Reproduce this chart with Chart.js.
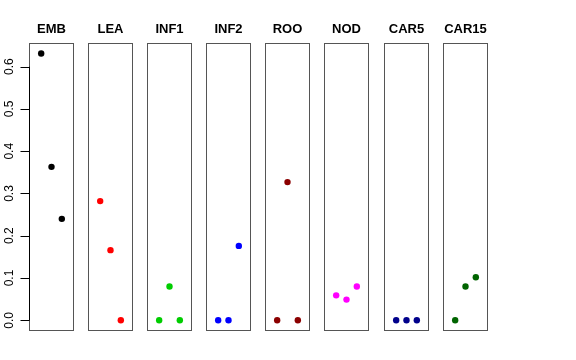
<!DOCTYPE html>
<html>
<head>
<meta charset="utf-8">
<script src="https://cdn.jsdelivr.net/npm/chart.js@4.4.1/dist/chart.umd.min.js"></script>
<style>
  html, body { margin: 0; padding: 0; background: #fff; }
  #wrap { position: relative; width: 576px; height: 360px; overflow: hidden; }
  #wrap canvas { position: absolute; top: 0; }
</style>
</head>
<body>
<div id="wrap"></div>
<script>
// tissue panels and their colours
const panels = ['EMB', 'LEA', 'INF1', 'INF2', 'ROO', 'NOD', 'CAR5', 'CAR15'];
const colors = ['#000000', '#FF0000', '#00CD00', '#0000FF', '#8B0000', '#FF00FF', '#00008B', '#006400'];

// three samples per panel
const xIdx = [1, 2, 3];
const embVals = [0.631, 0.363, 0.240];
const leaVals = [0.282, 0.166, 0.000];
const inf1Vals = [0.000, 0.080, 0.000];
const inf2Vals = [0.000, 0.000, 0.176];
const rooVals = [0.000, 0.327, 0.000];
const nodVals = [0.059, 0.049, 0.080];
const car5Vals = [0.000, 0.000, 0.000];
const car15Vals = [0.000, 0.080, 0.102];
const allVals = [embVals, leaVals, inf1Vals, inf2Vals, rooVals, nodVals, car5Vals, car15Vals];

const yTicks = [0, 0.1, 0.2, 0.3, 0.4, 0.5, 0.6];

// panel geometry (px)
const panelLeft = [29, 88, 147, 206, 265, 324, 384, 443];
const panelW = 45;
const margin = 7;
const canvasH = 345;
const panelBottom = 331;

const boxPlugin = {
  id: 'box',
  afterDraw(chart) {
    const a = chart.chartArea;
    const ctx = chart.ctx;
    ctx.save();
    ctx.strokeStyle = '#555';
    ctx.lineWidth = 1;
    ctx.strokeRect(Math.round(a.left) + 0.5, Math.round(a.top) + 0.5,
      Math.round(a.right - a.left) - 1, Math.round(a.bottom - a.top) - 1);
    ctx.restore();
  }
};

// R-style left axis: black line between first and last tick, ticks, rotated labels
const axisPlugin = {
  id: 'raxis',
  afterDraw(chart) {
    const y = chart.scales.y;
    if (!y.options.display) return;
    const ctx = chart.ctx;
    const x0 = Math.round(chart.chartArea.left) + 0.5;
    ctx.save();
    ctx.strokeStyle = '#000';
    ctx.lineWidth = 1;
    ctx.beginPath();
    ctx.moveTo(x0, y.getPixelForValue(yTicks[0]));
    ctx.lineTo(x0, y.getPixelForValue(yTicks[yTicks.length - 1]));
    yTicks.forEach(v => {
      const py = Math.round(y.getPixelForValue(v)) + 0.5;
      ctx.moveTo(x0 - 9, py);
      ctx.lineTo(x0, py);
    });
    ctx.stroke();
    ctx.fillStyle = '#000';
    ctx.font = '12px "Liberation Sans"';
    ctx.textAlign = 'center';
    ctx.textBaseline = 'middle';
    yTicks.forEach(v => {
      ctx.save();
      ctx.translate(9.5, y.getPixelForValue(v));
      ctx.rotate(-Math.PI / 2);
      ctx.fillText(v.toFixed(1), 0, 0);
      ctx.restore();
    });
    ctx.restore();
  }
};

const wrap = document.getElementById('wrap');

panels.forEach((name, i) => {
  const first = i === 0;
  const cv = document.createElement('canvas');
  const left = first ? 0 : panelLeft[i] - margin;
  const width = first ? panelLeft[0] + panelW + margin : panelW + 2 * margin;
  cv.width = width;
  cv.height = canvasH;
  cv.style.left = left + 'px';
  cv.style.width = width + 'px';
  cv.style.height = canvasH + 'px';
  wrap.appendChild(cv);

  new Chart(cv.getContext('2d'), {
    type: 'scatter',
    data: {
      datasets: [{
        data: xIdx.map((x, k) => ({ x: x, y: allVals[i][k] })),
        backgroundColor: colors[i],
        borderWidth: 0,
        pointRadius: 3.2,
        pointHoverRadius: 3.2
      }]
    },
    options: {
      responsive: false,
      animation: false,
      events: [],
      layout: {
        padding: { left: first ? 0 : margin, right: margin, top: 0, bottom: canvasH - panelBottom }
      },
      scales: {
        x: {
          type: 'linear',
          display: false,
          min: -0.18,
          max: 4.18
        },
        y: {
          type: 'linear',
          display: first,
          min: -0.0253,
          max: 0.656,
          afterBuildTicks: (s) => { s.ticks = yTicks.map(v => ({ value: v })); },
          afterFit: (s) => { if (first) s.width = panelLeft[0]; },
          border: { display: false },
          grid: { display: false },
          ticks: { display: false }
        }
      },
      plugins: {
        legend: { display: false },
        tooltip: { enabled: false },
        title: {
          display: true,
          text: name,
          fullSize: !first,
          color: '#000',
          font: { family: 'Liberation Sans', size: 13, weight: 'bold', lineHeight: 1.2 },
          padding: { top: 21.2, bottom: 6.2 }
        }
      }
    },
    plugins: [boxPlugin, axisPlugin]
  });
});
</script>
</body>
</html>
